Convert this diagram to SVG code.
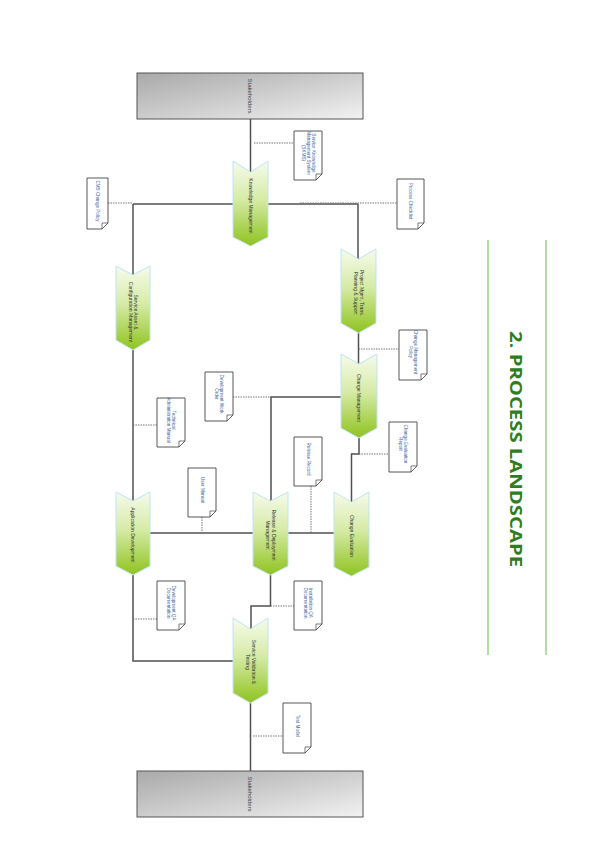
<svg xmlns="http://www.w3.org/2000/svg" width="599" height="848" viewBox="0 0 599 848">
<defs>
<linearGradient id="gChev" x1="0" y1="0" x2="0" y2="1">
<stop offset="0" stop-color="#f6fbec"/>
<stop offset="0.45" stop-color="#d6eba6"/>
<stop offset="1" stop-color="#8fc31f"/>
</linearGradient>
<linearGradient id="gStake" x1="0" y1="0" x2="1" y2="1">
<stop offset="0" stop-color="#a9a9a9"/>
<stop offset="0.6" stop-color="#d4d4d4"/>
<stop offset="1" stop-color="#f2f2f2"/>
</linearGradient>
<style>
.chev{fill:url(#gChev);stroke:#bfe3f3;stroke-width:1}
.stake{fill:url(#gStake);stroke:#555;stroke-width:1}
.doc{fill:#fff;stroke:#444;stroke-width:0.9}
.fold{fill:#fff;stroke:#444;stroke-width:0.7}
.solid{fill:none;stroke:#505050;stroke-width:1.5}
.dot{fill:none;stroke:#777;stroke-width:1;stroke-dasharray:1.5 1}
.ct{font-family:"Liberation Sans",Arial,sans-serif;font-size:5px;fill:#333;text-anchor:middle}
.dt{font-family:"Liberation Sans",Arial,sans-serif;font-size:4.6px;fill:#3b5f9e;text-anchor:middle}
.st{font-family:"Liberation Sans",Arial,sans-serif;font-size:6px;fill:#444;text-anchor:middle}
.title{font-family:"Open Sans","Liberation Sans",Arial,sans-serif;font-size:16px;font-weight:bold;fill:#2f7d1e;text-anchor:middle}
</style>
</defs>
<rect width="599" height="848" fill="#fff"/>

<g id="title">
<line x1="488" y1="240" x2="488" y2="655" stroke="#7cc56a" stroke-width="1.2"/>
<line x1="546" y1="240" x2="546" y2="655" stroke="#7cc56a" stroke-width="1.2"/>
<text class="title" transform="translate(510,449) rotate(90)" textLength="236" lengthAdjust="spacingAndGlyphs">2. PROCESS LANDSCAPE</text>
</g>

<g id="connectors">
<path class="solid" d="M250.5,119 V172"/>
<path class="solid" d="M133,204 H358"/>
<path class="solid" d="M133,204 V275"/>
<path class="solid" d="M358,204 V259"/>
<path class="solid" d="M358.5,333 V364"/>
<path class="solid" d="M341,397 H271 V501"/>
<path class="solid" d="M359,438 V454 H351.5 V502" stroke-width="2"/>
<path class="solid" d="M133,350 V501"/>
<path class="solid" d="M150,533 H335"/>
<path class="solid" d="M133,575 V661 H233"/>
<path class="solid" d="M270.5,575 V606 H251 V629"/>
<path class="solid" d="M250.5,703 V771"/>
<path class="dot" d="M254,143 H294"/>
<path class="dot" d="M108,203 H133"/>
<path class="dot" d="M300,203 H397"/>
<path class="dot" d="M358.5,349 H399"/>
<path class="dot" d="M233,397 H271"/>
<path class="dot" d="M359,454 H389"/>
<path class="dot" d="M311,486 V533"/>
<path class="dot" d="M202,517 V533"/>
<path class="dot" d="M133,425 H157"/>
<path class="dot" d="M133,619 H157"/>
<path class="dot" d="M270.5,606 H294"/>
<path class="dot" d="M253,736 H283"/>
</g>

<g id="stakeholders-top">
<rect class="stake" x="137" y="73" width="226" height="46"/>
<text class="st" transform="translate(250,96) rotate(90)" dy="2">Stakeholders</text>
</g>
<g id="stakeholders-bottom">
<rect class="stake" x="137" y="771" width="226" height="46"/>
<text class="st" transform="translate(250,794) rotate(90)" dy="2">Stakeholders</text>
</g>

<g id="knowledge-management">
<path class="chev" d="M233,161 L250.5,172 L268,161 V237 L250.5,246 L233,237 Z"/>
<text class="ct" transform="translate(250.5,206) rotate(90)" dy="1.7">Knowledge Management</text>
</g>
<g id="service-asset-config">
<path class="chev" d="M116,266 L133,275 L150,266 V340 L133,350 L116,340 Z"/>
<text class="ct" transform="translate(133,312) rotate(90)"><tspan x="0" dy="-1">Service Asset &amp;</tspan><tspan x="0" dy="5.5">Configuration Management</tspan></text>
</g>
<g id="project-mgmt">
<path class="chev" d="M341,249 L358.5,259 L376,249 V323 L358.5,333 L341,323 Z"/>
<text class="ct" transform="translate(358.5,293) rotate(90)"><tspan x="0" dy="-1">Project Mgmt, Trans.</tspan><tspan x="0" dy="5.5">Planning &amp; Support</tspan></text>
</g>
<g id="change-management">
<path class="chev" d="M341,354 L359,364 L377,354 V428 L359,438 L341,428 Z"/>
<text class="ct" transform="translate(359,398) rotate(90)" dy="1.7">Change Management</text>
</g>
<g id="change-evaluation">
<path class="chev" d="M334,492 L351.5,502 L369,492 V567 L351.5,576 L334,567 Z"/>
<text class="ct" transform="translate(351.5,536) rotate(90)" dy="1.7">Change Evaluation</text>
</g>
<g id="application-development">
<path class="chev" d="M116,492 L133,501 L150,492 V566 L133,575 L116,566 Z"/>
<text class="ct" transform="translate(133,535) rotate(90)" dy="1.7">Application Development</text>
</g>
<g id="release-deployment">
<path class="chev" d="M253,492 L270.5,501 L288,492 V566 L270.5,575 L253,566 Z"/>
<text class="ct" transform="translate(270.5,535) rotate(90)"><tspan x="0" dy="-1">Release &amp; Deployment</tspan><tspan x="0" dy="5.5">Management</tspan></text>
</g>
<g id="service-validation">
<path class="chev" d="M233,618 L250.5,629 L268,618 V693 L250.5,703 L233,693 Z"/>
<text class="ct" transform="translate(250.5,662) rotate(90)"><tspan x="0" dy="-1">Service Validation &amp;</tspan><tspan x="0" dy="5.5">Testing</tspan></text>
</g>

<g id="doc-skms">
<path class="doc" d="M294,131 H322 V174 L316,180 H294 Z"/><path class="fold" d="M322,174 H316 V180 Z"/>
<text class="dt" transform="translate(308,153) rotate(90)"><tspan x="0" dy="-3.5">Service Knowledge</tspan><tspan x="0" dy="5">Management System</tspan><tspan x="0" dy="5">(SKMS)</tspan></text>
</g>
<g id="doc-change-policy">
<path class="doc" d="M87,178 H108 V223 L102,229 H87 Z"/><path class="fold" d="M108,223 H102 V229 Z"/>
<text class="dt" transform="translate(97.5,201) rotate(90)" dy="1.5">CMS Change Policy</text>
</g>
<g id="doc-process-checklist">
<path class="doc" d="M397,179 H424 V223 L418,229 H397 Z"/><path class="fold" d="M424,223 H418 V229 Z"/>
<text class="dt" transform="translate(410.5,201) rotate(90)" dy="1.5">Process Checklist</text>
</g>
<g id="doc-change-mgmt-policy">
<path class="doc" d="M399,330 H427 V374 L421,380 H399 Z"/><path class="fold" d="M427,374 H421 V380 Z"/>
<text class="dt" transform="translate(413,352) rotate(90)"><tspan x="0" dy="-1">Change Management</tspan><tspan x="0" dy="5">Policy</tspan></text>
</g>
<g id="doc-dev-work-order">
<path class="doc" d="M205,372 H233 V415 L227,421 H205 Z"/><path class="fold" d="M233,415 H227 V421 Z"/>
<text class="dt" transform="translate(219,394) rotate(90)"><tspan x="0" dy="-1">Development Work</tspan><tspan x="0" dy="5">Order</tspan></text>
</g>
<g id="doc-tech-admin-manual">
<path class="doc" d="M157,398 H185 V441 L179,447 H157 Z"/><path class="fold" d="M185,441 H179 V447 Z"/>
<text class="dt" transform="translate(171,420) rotate(90)"><tspan x="0" dy="-1">Technical</tspan><tspan x="0" dy="5">Administration Manual</tspan></text>
</g>
<g id="doc-change-eval-report">
<path class="doc" d="M389,422 H417 V466 L411,472 H389 Z"/><path class="fold" d="M417,466 H411 V472 Z"/>
<text class="dt" transform="translate(403,444) rotate(90)"><tspan x="0" dy="-1">Change Evaluation</tspan><tspan x="0" dy="5">Report</tspan></text>
</g>
<g id="doc-release-record">
<path class="doc" d="M294,437 H322 V480 L316,486 H294 Z"/><path class="fold" d="M322,480 H316 V486 Z"/>
<text class="dt" transform="translate(308,459) rotate(90)" dy="1.5">Release Record</text>
</g>
<g id="doc-user-manual">
<path class="doc" d="M188,468 H216 V511 L210,517 H188 Z"/><path class="fold" d="M216,511 H210 V517 Z"/>
<text class="dt" transform="translate(202,490) rotate(90)" dy="1.5">User Manual</text>
</g>
<g id="doc-dev-qa">
<path class="doc" d="M157,581 H185 V624 L179,630 H157 Z"/><path class="fold" d="M185,624 H179 V630 Z"/>
<text class="dt" transform="translate(171,603) rotate(90)"><tspan x="0" dy="-1">Development QA</tspan><tspan x="0" dy="5">Documentation</tspan></text>
</g>
<g id="doc-install-qa">
<path class="doc" d="M294,581 H322 V624 L316,630 H294 Z"/><path class="fold" d="M322,624 H316 V630 Z"/>
<text class="dt" transform="translate(308,603) rotate(90)"><tspan x="0" dy="-1">Installation QA</tspan><tspan x="0" dy="5">Documentation</tspan></text>
</g>
<g id="doc-test-model">
<path class="doc" d="M283,703 H311 V747 L305,753 H283 Z"/><path class="fold" d="M311,747 H305 V753 Z"/>
<text class="dt" transform="translate(297,726) rotate(90)" dy="1.5">Test Model</text>
</g>
</svg>
